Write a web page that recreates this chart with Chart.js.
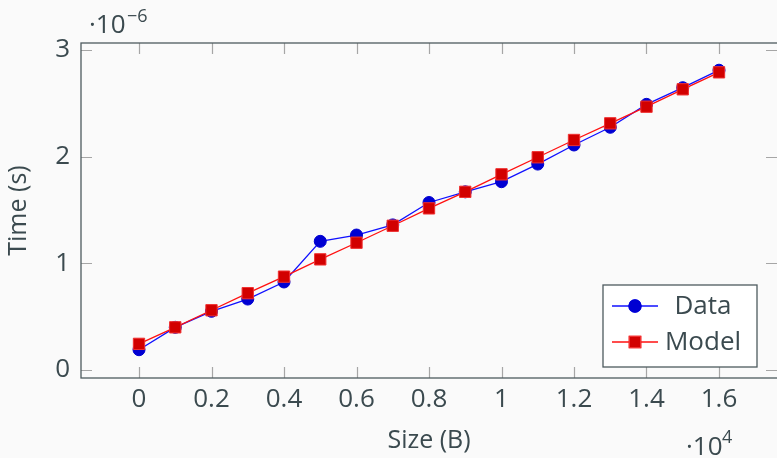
<!DOCTYPE html>
<html>
<head>
<meta charset="utf-8">
<script src="https://cdn.jsdelivr.net/npm/chart.js"></script>
<style>
    html, body { margin: 0; padding: 0; background: #fafafa; }
    #wrap { width: 777px; height: 458px; }
</style>
</head>
<body>
<div id="wrap"><canvas id="timeChart"></canvas></div>

<script>
    // values in units of 1e4 B (x) and 1e-6 s (y)
    const sizes = [0, 0.1, 0.2, 0.3, 0.4, 0.5, 0.6, 0.7, 0.8, 0.9, 1.0, 1.1, 1.2, 1.3, 1.4, 1.5, 1.6];
    const dataTimes = [0.19, 0.40, 0.55, 0.665, 0.825, 1.206, 1.265, 1.36, 1.57, 1.67, 1.765, 1.93, 2.109, 2.275, 2.49, 2.646, 2.81];
    const modelTimes = [0.245, 0.40, 0.56, 0.72, 0.875, 1.037, 1.193, 1.352, 1.515, 1.67, 1.834, 1.994, 2.156, 2.312, 2.468, 2.631, 2.79];
    const xTickValues = [0, 0.2, 0.4, 0.6, 0.8, 1, 1.2, 1.4, 1.6];
    const yTickValues = [0, 1, 2, 3];

    const textColor = '#3b4a4f';
    const fontFamily = '"Open Sans", "DejaVu Sans", sans-serif';

    const pgfAxis = {
        id: 'pgfAxis',
        beforeDraw(chart) {
            const ctx = chart.ctx;
            ctx.save();
            ctx.fillStyle = '#fafafa';
            ctx.fillRect(0, 0, chart.width, chart.height);
            ctx.restore();
        },
        afterDraw(chart) {
            const ctx = chart.ctx;
            const a = chart.chartArea;
            const x = chart.scales.x, y = chart.scales.y;
            ctx.save();

            // inward ticks on all four sides
            ctx.strokeStyle = '#a6a6a6';
            ctx.lineWidth = 1.2;
            ctx.beginPath();
            xTickValues.forEach(v => {
                const px = Math.round(x.getPixelForValue(v)) + 0.5;
                ctx.moveTo(px, a.bottom); ctx.lineTo(px, a.bottom - 11);
                ctx.moveTo(px, a.top); ctx.lineTo(px, a.top + 11);
            });
            yTickValues.forEach(v => {
                const py = Math.round(y.getPixelForValue(v)) + 0.5;
                ctx.moveTo(a.left, py); ctx.lineTo(a.left + 11, py);
                ctx.moveTo(a.right, py); ctx.lineTo(a.right - 11, py);
            });
            ctx.stroke();

            // frame (right edge falls just outside the canvas)
            ctx.strokeStyle = '#4e5b5f';
            ctx.lineWidth = 1.3;
            ctx.strokeRect(a.left, a.top, a.right + 1 - a.left, a.bottom - a.top);

            // axis multipliers
            ctx.fillStyle = textColor;
            ctx.textBaseline = 'alphabetic';
            ctx.textAlign = 'left';
            ctx.font = '26px ' + fontFamily;
            ctx.fillText('·10', 89, 33);
            ctx.font = '18px ' + fontFamily;
            ctx.fillText('−6', 127, 22);
            ctx.font = '26px ' + fontFamily;
            ctx.fillText('·10', 686, 455);
            ctx.font = '18px ' + fontFamily;
            ctx.fillText('4', 722, 443);

            // legend
            const lx = 603, ly = 285, lw = 154, lh = 82;
            ctx.fillStyle = '#ffffff';
            ctx.fillRect(lx, ly, lw, lh);
            ctx.strokeStyle = '#4e5b5f';
            ctx.lineWidth = 1.3;
            ctx.strokeRect(lx, ly, lw, lh);
            chart.data.datasets.slice().sort((p, q) => p.legendRank - q.legendRank).forEach((ds, i) => {
                const cy = ly + 21 + i * 36;
                ctx.strokeStyle = ds.borderColor;
                ctx.lineWidth = ds.borderWidth;
                ctx.beginPath();
                ctx.moveTo(612, cy); ctx.lineTo(658, cy);
                ctx.stroke();
                Chart.helpers.drawPoint(ctx, {
                    pointStyle: ds.pointStyle,
                    radius: ds.pointRadius,
                    borderWidth: 1
                }, 635, cy);
                ctx.fillStyle = ds.pointBackgroundColor;
                ctx.strokeStyle = ds.pointBorderColor;
                ctx.fill();
                ctx.stroke();
                ctx.fillStyle = textColor;
                ctx.font = '26px ' + fontFamily;
                ctx.textAlign = 'center';
                ctx.textBaseline = 'middle';
                ctx.fillText(ds.label, 703, cy + 1);
            });
            ctx.restore();
        }
    };

    new Chart(document.getElementById('timeChart'), {
        type: 'line',
        data: {
            datasets: [
                {
                    label: 'Data',
                    legendRank: 0,
                    data: sizes.map((s, i) => ({ x: s, y: dataTimes[i] })),
                    borderColor: '#1010ff',
                    borderWidth: 1.3,
                    pointStyle: 'circle',
                    pointRadius: 6,
                    pointBackgroundColor: '#0000d2',
                    pointBorderColor: '#0000d2',
                    pointBorderWidth: 1,
                    order: 2
                },
                {
                    label: 'Model',
                    legendRank: 1,
                    data: sizes.map((s, i) => ({ x: s, y: modelTimes[i] })),
                    borderColor: '#ff1010',
                    borderWidth: 1.3,
                    pointStyle: 'rect',
                    pointRadius: 8,
                    pointBackgroundColor: '#d20000',
                    pointBorderColor: '#f03030',
                    pointBorderWidth: 1,
                    order: 1
                }
            ]
        },
        options: {
            responsive: true,
            maintainAspectRatio: false,
            animation: false,
            layout: { autoPadding: false, padding: { top: 43, right: 0, left: 0, bottom: 0 } },
            plugins: {
                legend: { display: false },
                tooltip: { enabled: false }
            },
            scales: {
                x: {
                    type: 'linear',
                    min: -0.16,
                    max: 1.76,
                    afterBuildTicks: axis => { axis.ticks = xTickValues.map(v => ({ value: v })); },
                    afterFit: axis => { axis.height = 80; axis.paddingLeft = 0; axis.paddingRight = 0; },
                    grid: { display: false, drawTicks: false },
                    border: { display: false },
                    ticks: {
                        color: textColor,
                        padding: 6,
                        maxRotation: 0,
                        font: { family: fontFamily, size: 26 },
                        callback: v => String(+v.toFixed(1))
                    },
                    title: {
                        display: true,
                        text: 'Size (B)',
                        color: textColor,
                        padding: { top: 4, bottom: 2 },
                        font: { family: fontFamily, size: 25 }
                    }
                },
                y: {
                    type: 'linear',
                    min: -0.075,
                    max: 3.065,
                    afterBuildTicks: axis => { axis.ticks = yTickValues.map(v => ({ value: v })); },
                    afterFit: axis => { axis.width = 81; axis.paddingTop = 0; axis.paddingBottom = 0; },
                    grid: { display: false, drawTicks: false },
                    border: { display: false },
                    ticks: {
                        color: textColor,
                        padding: 11,
                        font: { family: fontFamily, size: 26 },
                        callback: v => String(v)
                    },
                    title: {
                        display: true,
                        text: 'Time (s)',
                        color: textColor,
                        padding: { top: 4, bottom: 4 },
                        font: { family: fontFamily, size: 25 }
                    }
                }
            }
        },
        plugins: [pgfAxis]
    });
</script>
</body>
</html>
